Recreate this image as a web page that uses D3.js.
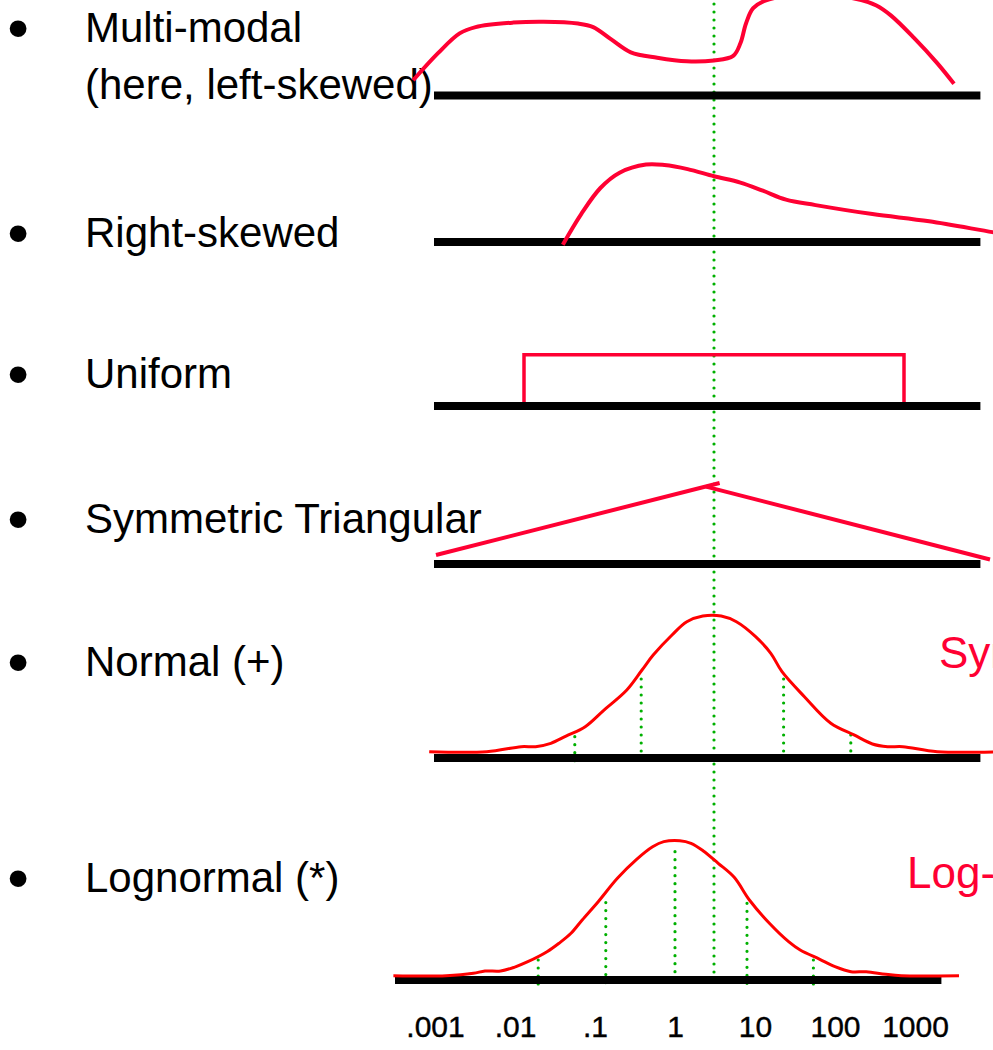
<!DOCTYPE html>
<html>
<head>
<meta charset="utf-8">
<script src="https://cdn.jsdelivr.net/npm/d3@7"></script>
<style>
  html, body { margin: 0; padding: 0; background: #fff; overflow: hidden; }
  svg { display: block; }
</style>
</head>
<body>
<svg id="chart" width="993" height="1050"></svg>
<script>
// Positions along each axis are in decades (log10 of the quantity);
// curve heights are relative densities.
const tickDecades = [-3, -2, -1, 0, 1, 2, 3];
const tickLabels = [".001", ".01", ".1", "1", "10", "100", "1000"];
const axisExtent = [-3.5, 3.33];

const bulletLabels = ["Multi-modal", "Right-skewed", "Uniform", "Symmetric Triangular", "Normal (+)", "Lognormal (*)"];
const subLabel = "(here, left-skewed)";
const sideLabels = ["Symmetric", "Log-symmetric"];

const multiModal = [
  [-3.76, 0.17], [-3.45, 0.47], [-3.18, 0.69], [-2.98, 0.76], [-2.51, 0.81], [-2.13, 0.82],
  [-1.70, 0.80], [-1.51, 0.76], [-1.28, 0.62], [-1.04, 0.48], [-0.71, 0.42], [-0.34, 0.38],
  [0.00, 0.39], [0.24, 0.44], [0.33, 0.58], [0.40, 0.80], [0.49, 0.97], [0.66, 1.06],
  [1.26, 1.13], [1.84, 1.06], [2.03, 1.00], [2.21, 0.89], [2.50, 0.64], [2.79, 0.36], [3.00, 0.13]
];

const rightSkewed = [
  [-1.89, -0.03], [-1.66, 0.31], [-1.42, 0.60], [-1.18, 0.77], [-0.85, 0.86], [-0.62, 0.855],
  [-0.33, 0.81], [0.00, 0.73], [0.33, 0.66], [0.61, 0.57], [0.90, 0.47], [1.27, 0.41],
  [1.98, 0.31], [2.69, 0.23], [3.48, 0.11], [3.70, 0.08]
];

const uniformRange = [-2.375, 2.375];
const uniformHeight = 0.57;

const triangleLeft = [[-3.475, 0.10], [0.07, 0.90]];
const triangleRight = [[-0.10, 0.86], [3.45, 0.05]];

const normalCurve = [
  [-3.56, 0.07], [-2.84, 0.07], [-2.41, 0.126], [-2.23, 0.126], [-2.04, 0.163], [-1.85, 0.244],
  [-1.61, 0.348], [-1.375, 0.533], [-1.09, 0.756], [-0.90, 0.978], [-0.76, 1.144], [-0.525, 1.367],
  [-0.34, 1.514], [-0.14, 1.578], [0.09, 1.578], [0.28, 1.514], [0.52, 1.348], [0.71, 1.163],
  [0.85, 0.959], [1.13, 0.681], [1.46, 0.386], [1.75, 0.256], [1.98, 0.156], [2.17, 0.126],
  [2.36, 0.126], [2.79, 0.07], [3.60, 0.07]
];
const normalMarks = [[-1.74, 0.237], [-0.91, 0.878], [0.87, 0.878], [1.71, 0.256]];

const lognormalCurve = [
  [-3.52, 0.048], [-2.86, 0.048], [-2.52, 0.074], [-2.375, 0.10], [-2.18, 0.10], [-2.01, 0.141],
  [-1.84, 0.203], [-1.60, 0.314], [-1.45, 0.408], [-1.30, 0.519], [-1.16, 0.667], [-0.96, 0.87],
  [-0.72, 1.13], [-0.48, 1.34], [-0.28, 1.48], [-0.14, 1.537], [0.06, 1.548], [0.20, 1.519],
  [0.35, 1.437], [0.54, 1.297], [0.74, 1.141], [0.93, 0.889], [1.18, 0.63], [1.42, 0.426],
  [1.565, 0.333], [1.81, 0.23], [2.00, 0.148], [2.20, 0.092], [2.39, 0.092], [2.635, 0.063],
  [2.83, 0.048], [3.55, 0.048]
];
const lognormalMarks = [[-1.71, 0.222], [-0.865, 0.86], [0, 1.426], [0.9, 0.852], [1.73, 0.222]];

// ---- layout ----
const W = 993, H = 1050;
const FONT = "'Liberation Sans', Arial, Helvetica, sans-serif";
const RED = "#ff0033", PURE_RED = "#ff0000", GREEN = "#00b000";
const panelBase = [95.5, 242, 406, 564, 758, 980];     // baseline y of each panel
const labelBaseline = [42, 246.5, 388, 533, 676, 891.5];
const unitPx = 90;                                      // px per unit of density

const svg = d3.select("#chart");

// lower (lognormal) axis and the upper panels' axis, offset so that the
// upper panels' centre sits over the lognormal mean
const xLower = d3.scaleLinear().domain([-3, 3]).range([435, 915]);
const xUpper = d3.scaleLinear().domain([-3, 3]).range([474, 954]);

const yPanel = base => d3.scaleLinear().domain([0, 1]).range([base, base - unitPx]);

function curve(pts, xs, ys, color, width) {
  const line = d3.line().x(d => xs(d[0])).y(d => ys(d[1])).curve(d3.curveCatmullRom.alpha(0.5));
  svg.append("path").attr("d", line(pts)).attr("fill", "none")
    .attr("stroke", color).attr("stroke-width", width)
    .attr("stroke-linejoin", "round").attr("stroke-linecap", "butt");
}
function straight(pts, xs, ys, color, width) {
  const line = d3.line().x(d => xs(d[0])).y(d => ys(d[1]));
  svg.append("path").attr("d", line(pts)).attr("fill", "none")
    .attr("stroke", color).attr("stroke-width", width).attr("stroke-linejoin", "miter");
}
function dotted(x, y1, y2) {
  svg.append("line").attr("x1", x).attr("x2", x).attr("y1", y1).attr("y2", y2)
    .attr("stroke", GREEN).attr("stroke-width", 3.2)
    .attr("stroke-linecap", "round").attr("stroke-dasharray", "0 8");
}

// ---- labels ----
bulletLabels.forEach((t, i) => {
  svg.append("text").attr("x", 18).attr("y", labelBaseline[i] + 7).attr("text-anchor", "middle")
    .attr("font-family", FONT).attr("font-size", 62).attr("fill", "#000").text("\u2022");
  svg.append("text").attr("x", 85).attr("y", labelBaseline[i])
    .attr("font-family", FONT).attr("font-size", 42).attr("fill", "#000").text(t);
});
svg.append("text").attr("x", 85).attr("y", 99)
  .attr("font-family", FONT).attr("font-size", 42).attr("fill", "#000").text(subLabel);

svg.append("text").attr("x", 939).attr("y", 668)
  .attr("font-family", FONT).attr("font-size", 44).attr("fill", RED).text(sideLabels[0]);
svg.append("text").attr("x", 907).attr("y", 888)
  .attr("font-family", FONT).attr("font-size", 44).attr("fill", RED).text(sideLabels[1]);

// ---- green reference lines (behind the baselines) ----
dotted(xUpper(0), 4, 973);
{
  const ys = yPanel(panelBase[4]);
  normalMarks.forEach(m => dotted(xUpper(m[0]), ys(m[1]), ys(-0.07)));
}
{
  const ys = yPanel(panelBase[5]);
  lognormalMarks.forEach(m => dotted(xLower(m[0]), ys(m[1]), ys(-0.07)));
}

// ---- baselines ----
panelBase.forEach((b, i) => {
  const xs = i === 5 ? xLower : xUpper;
  svg.append("line").attr("x1", xs(axisExtent[0])).attr("x2", xs(axisExtent[1]))
    .attr("y1", b).attr("y2", b).attr("stroke", "#000").attr("stroke-width", 8);
});

// ---- distributions ----
curve(multiModal, xUpper, yPanel(panelBase[0]), RED, 4);
curve(rightSkewed, xUpper, yPanel(panelBase[1]), RED, 4);
{
  const ys = yPanel(panelBase[2]);
  const top = ys(uniformHeight), bottom = ys(0) - 4;
  const x0 = xUpper(uniformRange[0]), x1 = xUpper(uniformRange[1]);
  svg.append("path")
    .attr("d", `M${x0},${bottom}V${top}H${x1}V${bottom}`)
    .attr("fill", "none").attr("stroke", RED).attr("stroke-width", 3.5);
}
straight(triangleLeft, xUpper, yPanel(panelBase[3]), RED, 4);
straight(triangleRight, xUpper, yPanel(panelBase[3]), RED, 4);
curve(normalCurve, xUpper, yPanel(panelBase[4]), PURE_RED, 3);
curve(lognormalCurve, xLower, yPanel(panelBase[5]), PURE_RED, 3);

// ---- axis tick labels ----
const axis = d3.axisBottom(xLower).tickValues(tickDecades)
  .tickFormat((d, i) => tickLabels[i]).tickSize(0).tickPadding(0);
const gAxis = svg.append("g").attr("transform", "translate(0,1037)").call(axis);
gAxis.select(".domain").remove();
gAxis.selectAll("text").attr("y", 0).attr("dy", 0)
  .attr("font-family", FONT).attr("font-size", 30).attr("fill", "#000")
  .attr("stroke", "#000").attr("stroke-width", 0.4);
</script>
</body>
</html>
